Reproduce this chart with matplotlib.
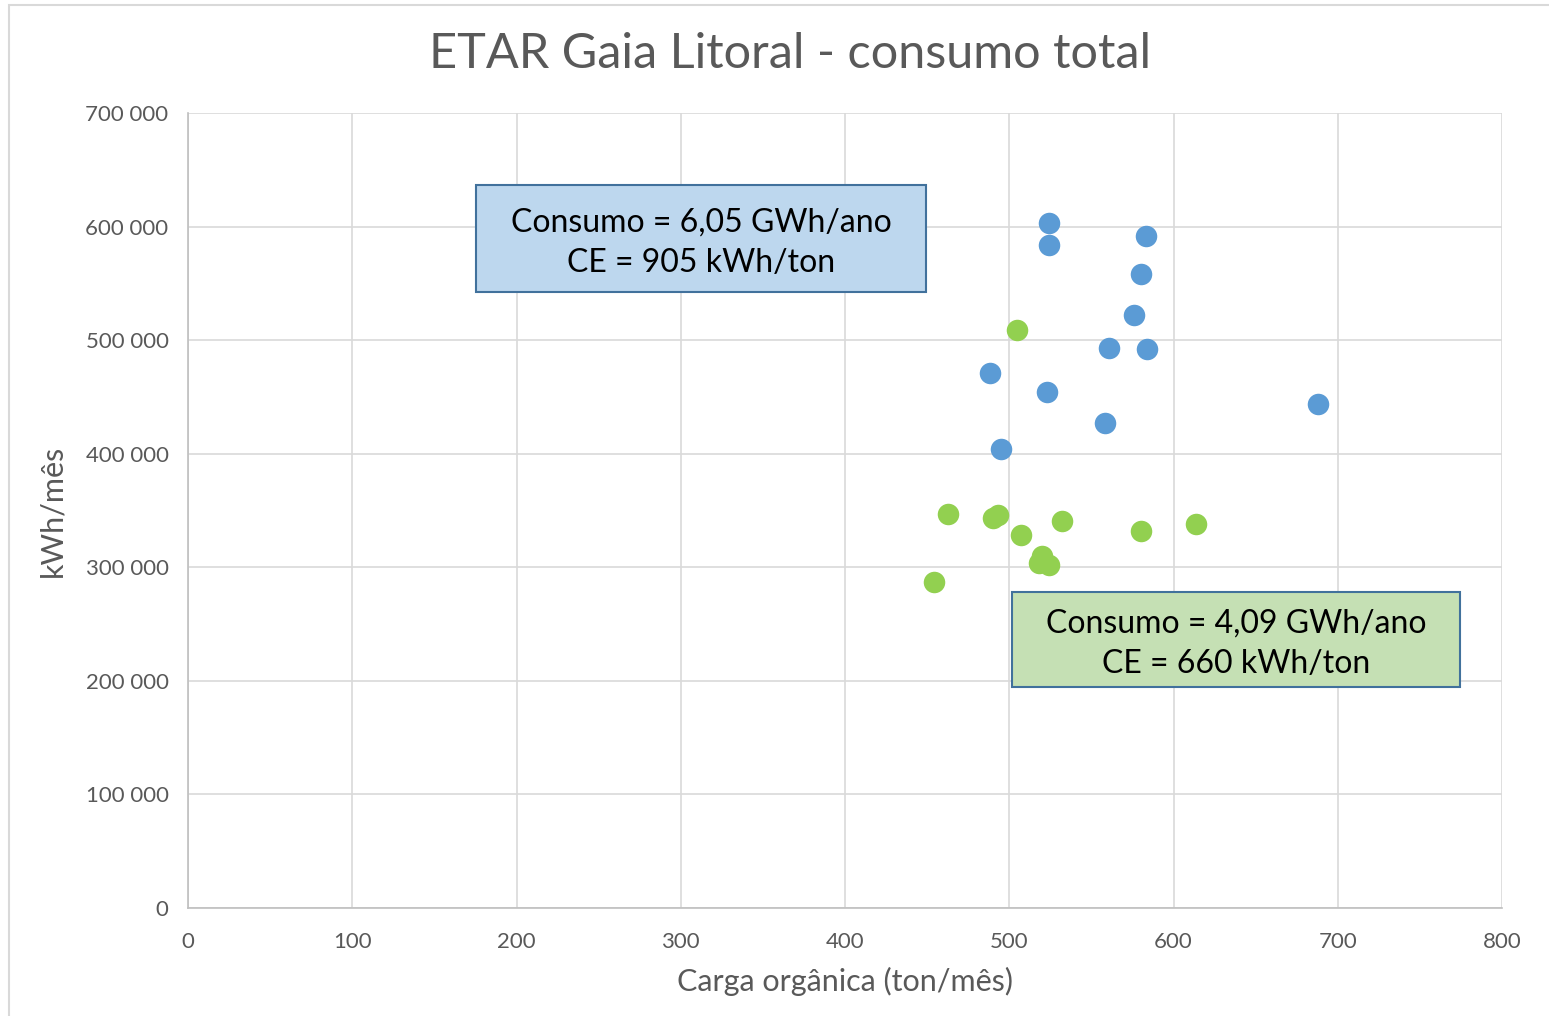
import matplotlib.pyplot as plt
from matplotlib.patches import Rectangle

plt.rcParams['font.family'] = ['Lato', 'DejaVu Sans']

# ano anterior (azul)
carga_azul = [524, 524, 583, 580, 576, 561, 584, 488, 523, 688, 558, 495]
consumo_azul = [603000, 584000, 592000, 558000, 522000, 493000, 492000,
                471000, 454000, 444000, 427000, 404000]

# ano seguinte (verde)
carga_verde = [505, 463, 490, 493, 507, 532, 580, 614, 520, 524, 518, 454]
consumo_verde = [509000, 347000, 343000, 346000, 328000, 341000, 332000,
                 338000, 310000, 302000, 304000, 287000]

texto_azul = "Consumo = 6,05 GWh/ano\nCE = 905 kWh/ton"
texto_verde = "Consumo = 4,09 GWh/ano\nCE = 660 kWh/ton"

xticks = list(range(0, 900, 100))
yticks = list(range(0, 800000, 100000))

fig = plt.figure(figsize=(15.49, 10.16), dpi=100)
ax = fig.add_axes([188/1549, 1-908/1016, (1502-188)/1549, (908-113)/1016])

# borda da área do gráfico
fig.patches.append(Rectangle((9/1549, -0.01), 1.0, 1-5/1016+0.01,
                             transform=fig.transFigure, fill=False,
                             edgecolor='#D9D9D9', linewidth=1.5))

ax.scatter(carga_azul, consumo_azul, s=240, color='#5B9BD5', zorder=3, linewidths=0)
ax.scatter(carga_verde, consumo_verde, s=240, color='#92D050', zorder=3, linewidths=0)

ax.set_xlim(0, 800)
ax.set_ylim(0, 700000)
ax.set_xticks(xticks)
ax.set_yticks(yticks)
ax.set_yticklabels([f"{v:,}".replace(",", " ") for v in yticks])
ax.grid(True, color='#D9D9D9', linewidth=1.2)
ax.set_axisbelow(True)
for s in ['top', 'right']:
    ax.spines[s].set_visible(False)
for s in ['left', 'bottom']:
    ax.spines[s].set_color('#BFBFBF')
    ax.spines[s].set_linewidth(1.2)
ax.tick_params(length=0, labelsize=16, labelcolor='#595959', pad=14)
ax.tick_params(axis='x', pad=17)

ax.set_xlabel("Carga orgânica (ton/mês)", fontsize=22, color='#595959', labelpad=11)
ax.set_ylabel("kWh/mês", fontsize=22, color='#595959', labelpad=14)
fig.text(790/1549, 1-54/1016, "ETAR Gaia Litoral - consumo total",
         fontsize=35, color='#595959', ha='center', va='center')

# caixas de texto
ax.add_patch(Rectangle((175.3, 542400), 274, 94200, facecolor='#BDD7EE',
                       edgecolor='#41719C', linewidth=1.5, zorder=4))
ax.text(312.3, 586000, texto_azul, ha='center', va='center', fontsize=23,
        color='black', zorder=5, linespacing=1.45)
ax.add_patch(Rectangle((501.7, 194600), 272.7, 83600, facecolor='#C5E0B4',
                       edgecolor='#41719C', linewidth=1.5, zorder=4))
ax.text(638, 232900, texto_verde, ha='center', va='center', fontsize=23,
        color='black', zorder=5, linespacing=1.45)

fig.savefig('out.png', dpi=100)
